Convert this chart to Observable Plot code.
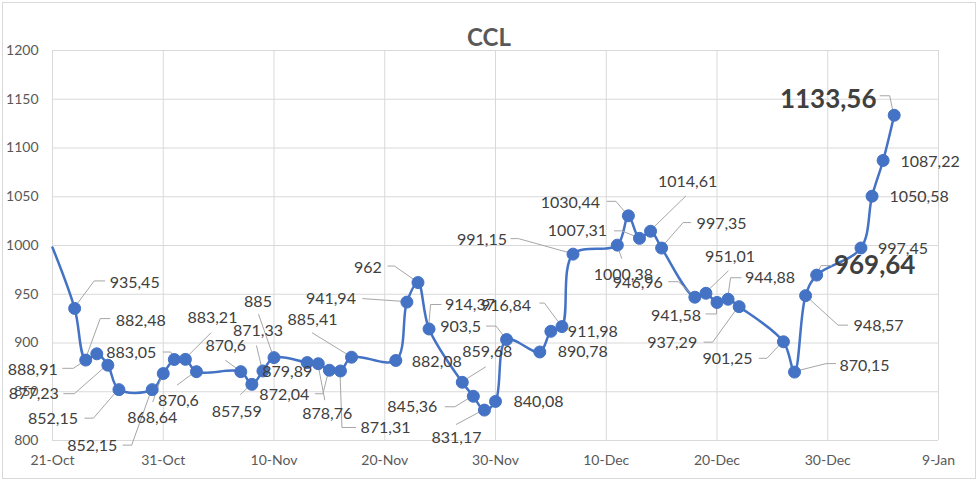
<!DOCTYPE html>
<html><head><meta charset="utf-8">
<script src="https://cdn.jsdelivr.net/npm/d3@7"></script>
<script src="https://cdn.jsdelivr.net/npm/@observablehq/plot@0.6"></script>
<style>
html,body{margin:0;padding:0;background:#fff;}
#chart{position:relative;width:980px;height:483px;overflow:hidden;background:#fff;}
#frame{position:absolute;left:2px;top:2px;width:974px;height:477px;border:1px solid #d9d9d9;box-sizing:border-box;pointer-events:none;}
#title{position:absolute;left:0;width:978px;top:22px;text-align:center;font:bold 24px Lato, sans-serif;color:#595959;z-index:2;}
#chart svg{position:absolute;left:0;top:0;}
</style></head><body>
<div id="chart"><div id="title">CCL</div><div id="frame"></div></div>
<script>
// ---- data ----
const dates = ["2023-10-21","2023-10-23","2023-10-24","2023-10-25","2023-10-26","2023-10-27","2023-10-30","2023-10-31",
  "2023-11-01","2023-11-02","2023-11-03","2023-11-07","2023-11-08","2023-11-09","2023-11-10","2023-11-13","2023-11-14",
  "2023-11-15","2023-11-16","2023-11-17","2023-11-21","2023-11-22","2023-11-23","2023-11-24","2023-11-27","2023-11-28",
  "2023-11-29","2023-11-30","2023-12-01","2023-12-04","2023-12-05","2023-12-06","2023-12-07","2023-12-11","2023-12-12",
  "2023-12-13","2023-12-14","2023-12-15","2023-12-18","2023-12-19","2023-12-20","2023-12-21","2023-12-22","2023-12-26",
  "2023-12-27","2023-12-28","2023-12-29","2024-01-02","2024-01-03","2024-01-04","2024-01-05"];
const values = [998,935.45,882.48,888.91,877.23,852.15,852.15,868.64,
  883.05,883.21,870.6,870.6,857.59,871.33,885,879.89,878.76,
  872.04,871.31,885.41,882.08,941.94,962,914.37,859.68,845.36,
  831.17,840.08,903.5,890.78,911.98,916.84,991.15,1000.38,1030.44,
  1007.31,1014.61,997.35,946.96,951.01,941.58,944.88,937.29,901.25,
  870.15,948.57,969.64,997.45,1050.58,1087.22,1133.56];
const highlighted = ["2023-12-29","2024-01-05"];
const xTickDates = ["2023-10-21","2023-10-31","2023-11-10","2023-11-20","2023-11-30","2023-12-10","2023-12-20","2023-12-30","2024-01-09"];
const xTickLabels = ["21-Oct","31-Oct","10-Nov","20-Nov","30-Nov","10-Dec","20-Dec","30-Dec","9-Jan"];
const yTicks = [800,850,900,950,1000,1050,1100,1150,1200];

// ---- label layout (pixel offsets from each point, for points 1..50) ----
const labelLayout = [
  [60,-26,[[31,-27],[20,-27]]],
  [55,-39,[[25,-41],[15,-41]]],
  [-64,16,[[-34,15],[-23,15]]],
  [-74,29,[[-44,29],[-33,29]]],
  [-66,29,[[-34,29],[-25,29]]],
  [-60,56,[[-29,56],[-20,56]]],
  [-11,44,[[-10,29]]],
  [-43,-7,[[-11,-7],[-3,-7]]],
  [27,-41,[[26,-26]]],
  [-18,29,[[-19,14]]],
  [-15,-26,[[-15,-11]]],
  [-15,28,[[-11,11]]],
  [-5,-40,[[-6,-25]]],
  [-16,-56,[[-15,-43]]],
  [-20,9,null],
  [9,50,[[7,37]]],
  [-45,25,[[-14,24],[-6,24]]],
  [45,57,[[16,57],[2,57]]],
  [-39,-37,[[-39,-24]]],
  [41,1,null],
  [-76,-3,[[-44,-3]]],
  [-50,-15,[[-30,-16],[-23,-16]]],
  [41,-24,[[13,-24],[2,-24]]],
  [25,-30,[[24,-15]]],
  [-61,11,[[-28,11],[-18,11]]],
  [-28,28,[[-28,15]]],
  [43,0,null],
  [-46,-13,[[-20,-13],[-10,-13]]],
  [43,0,null],
  [42,1,null],
  [-56,-21,[[-22,-23],[-17,-23]]],
  [-91,-14,[[-62,-15],[-54,-15]]],
  [6,30,[[5,14]]],
  [-58,-13,[[-21,-14],[-12,-14]]],
  [-62,-7,[[-25,-7],[-17,-7]]],
  [37,-49,[[36,-35]]],
  [60,-24,[[30,-25],[22,-25]]],
  [-57,-14,[[-26,-15],[-16,-15]]],
  [24,-36,[[23,-22]]],
  [-41,13,[[-11,12],[0,12]]],
  [42,-21,[[14,-21],[3,-21]]],
  [-67,36,[[-35,36],[-26,36]]],
  [-56,17,[[-24,17],[-16,17]]],
  [70,-6,[[42,-8],[32,-8]]],
  [73,30,[[43,30],[33,30]]],
  [58,-9,[[16,-9],[5,-9]]],
  [42,1,null],
  [47,1,null],
  [47,1,null],
  [-66,-16,[[-14,-19],[-4,-19]]]
];

const series = dates.map((d, i) => ({date: new Date(d), value: values[i], key: d}));
const pts = series.slice(1);
const fmt = v => String(v).replace(".", ",");
const xLabel = new Map(xTickDates.map((d, i) => [+new Date(d), xTickLabels[i]]));

const leaderMark = (index, scales) => {
  const sx = typeof scales.x === "function" ? scales.x : scales.scales.x.apply;
  const sy = typeof scales.y === "function" ? scales.y : scales.scales.y.apply;
  const g = d3.create("svg:g").attr("fill", "none").attr("stroke", "#a6a6a6").attr("stroke-width", 1);
  labelLayout.forEach((L, k) => {
    if (!L[2]) return;
    const d = pts[k];
    const px = sx(d.date), py = sy(d.value);
    const p = L[2].map(([a, b]) => [px + a, py + b]).concat([[px, py]]);
    g.append("polyline").attr("points", p.map(q => q.join(",")).join(" "));
  });
  return g.node();
};

const labelMarks = labelLayout.map((L, k) => {
  const d = pts[k];
  const big = highlighted.includes(d.key);
  return Plot.text([d], {
    x: "date", y: "value", text: r => fmt(r.value),
    dx: L[0], dy: L[1], textAnchor: "middle", lineAnchor: "middle",
    fontSize: big ? 26 : 16, fontWeight: big ? "bold" : "normal",
    fill: "#404040", fontFamily: "Lato"
  });
});

const plot = Plot.plot({
  width: 980, height: 483,
  marginTop: 50, marginBottom: 43, marginLeft: 52, marginRight: 42,
  style: {fontFamily: "Lato, sans-serif", background: "transparent", overflow: "visible"},
  x: {type: "utc", domain: [new Date(xTickDates[0]), new Date(xTickDates[xTickDates.length - 1])]},
  y: {domain: [800, 1200]},
  marks: [
    Plot.gridY(yTicks, {stroke: "#d9d9d9", strokeOpacity: 1, strokeWidth: 1}),
    Plot.gridX(xTickDates.map(d => new Date(d)), {stroke: "#d9d9d9", strokeOpacity: 1, strokeWidth: 1}),
    Plot.axisY(yTicks, {tickSize: 0, tickPadding: 14, fontSize: 14, fill: "#595959", label: null,
      tickFormat: d => String(d)}),
    Plot.axisX(xTickDates.map(d => new Date(d)), {tickSize: 0, tickPadding: 15, fontSize: 14, fill: "#595959", label: null,
      tickFormat: d => xLabel.get(+d)}),
    Plot.line(series, {x: "date", y: "value", stroke: "#4472C4", strokeWidth: 2.5, curve: "catmull-rom"}),
    leaderMark,
    Plot.dot(pts, {x: "date", y: "value", r: 6, fill: "#4472C4", stroke: "#4472C4", strokeWidth: 1}),
    ...labelMarks
  ]
});
document.getElementById("chart").insertBefore(plot, document.getElementById("title"));
</script>
</body></html>
